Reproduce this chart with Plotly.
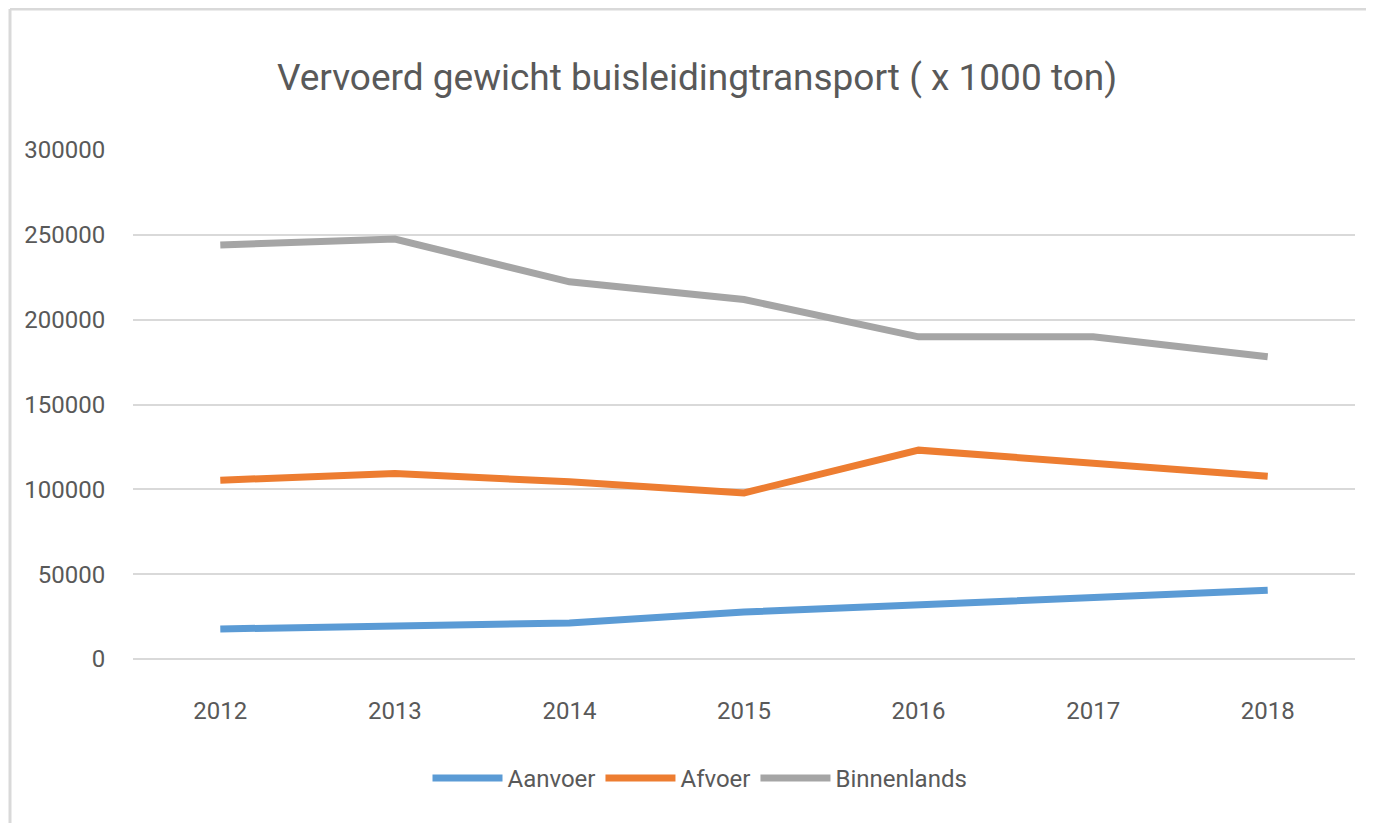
import plotly.graph_objects as go

years = ["2012", "2013", "2014", "2015", "2016", "2017", "2018"]
aanvoer = [17700, 19900, 21200, 27700, 31700, 36600, 40500]
afvoer = [105400, 109300, 104400, 97900, 123100, 115200, 107700]
binnenlands = [244000, 247500, 222300, 211900, 189900, 189900, 178100]

series_names = ["Aanvoer", "Afvoer", "Binnenlands"]
series_values = [aanvoer, afvoer, binnenlands]
colors = ["#5B9BD5", "#ED7D31", "#A5A5A5"]

FONT = "Liberation Sans Narrow, Arial Narrow, Roboto, sans-serif"
TXT = "#595959"

fig = go.Figure()
for name, vals, col in zip(series_names, series_values, colors):
    fig.add_trace(go.Scatter(x=years, y=vals, mode="lines", name=name,
                             line=dict(color=col, width=7)))

OFF = 8  # page body margin
W, H = 1358, 815
L = 133 - OFF
R = W - (1355 - OFF)
T = 150 - OFF
B = H - (658.7 - OFF)
pw = W - L - R
ph = H - T - B

def px_x(p):
    return (p - OFF - L) / pw

def px_y(p):
    return (H - B - (p - OFF)) / ph

fig.update_layout(
    width=W, height=H,
    margin=dict(l=L, r=R, t=T, b=B, pad=0),
    paper_bgcolor="white", plot_bgcolor="white",
    font=dict(family=FONT, color=TXT, size=24),
    title=dict(text="Vervoerd gewicht buisleidingtransport ( x 1000 ton)",
               x=(697 - OFF) / W, xanchor="center",
               y=1 - (77 - OFF) / H, yanchor="middle",
               font=dict(family=FONT, size=37, color=TXT)),
    xaxis=dict(type="category", range=[-0.5, 6.5], showgrid=False, showline=False, zeroline=False,
               ticks="outside", ticklen=30, tickcolor="rgba(0,0,0,0)",
               tickfont=dict(size=24, color=TXT)),
    yaxis=dict(range=[0, 300000], tickvals=[0, 50000, 100000, 150000, 200000, 250000, 300000],
               ticktext=["0", "50000", "100000", "150000", "200000", "250000", "300000"],
               showgrid=True, gridcolor="#D9D9D9", gridwidth=2,
               zeroline=True, zerolinecolor="#D9D9D9", zerolinewidth=2,
               showline=False, ticks="outside", ticklen=22, tickcolor="rgba(0,0,0,0)",
               tickfont=dict(size=24, color=TXT)),
    legend=dict(orientation="h", x=px_x(700), xanchor="center",
                y=px_y(778), yanchor="middle",
                font=dict(size=24, color=TXT), itemwidth=70,
                bgcolor="rgba(0,0,0,0)"),
    showlegend=True,
)

# chart frame (left and top border)
fig.add_shape(type="line", xref="paper", yref="paper",
              x0=px_x(10), x1=px_x(1400), y0=px_y(9), y1=px_y(9),
              line=dict(color="#D9D9D9", width=3))
fig.add_shape(type="line", xref="paper", yref="paper",
              x0=px_x(10), x1=px_x(10), y0=px_y(9), y1=px_y(850),
              line=dict(color="#D9D9D9", width=3))

fig.write_html("out.html")
